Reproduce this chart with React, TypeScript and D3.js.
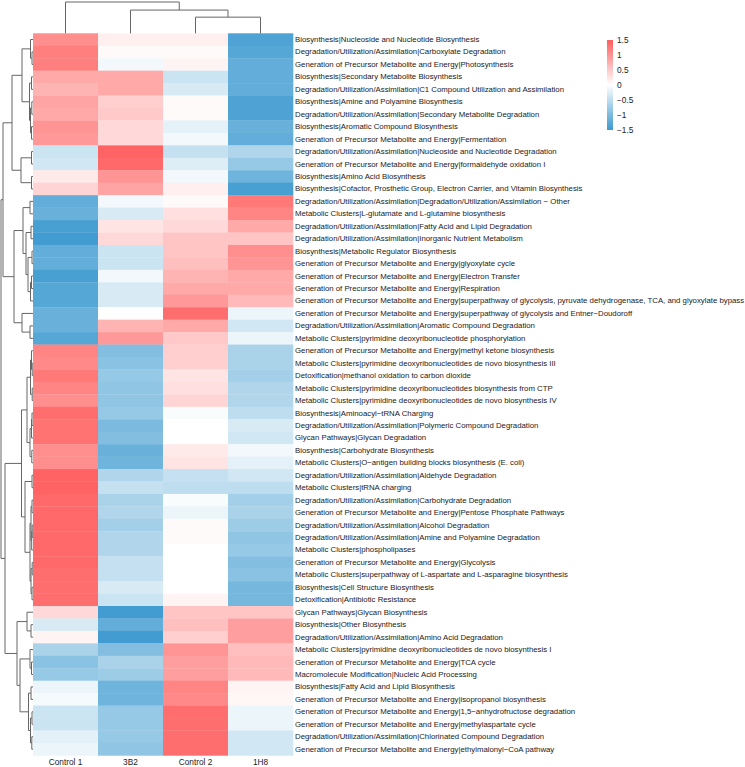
import React from 'react';
import * as d3 from 'd3';

const rowLabels = [
  'Biosynthesis|Nucleoside and Nucleotide Biosynthesis',
  'Degradation/Utilization/Assimilation|Carboxylate Degradation',
  'Generation of Precursor Metabolite and Energy|Photosynthesis',
  'Biosynthesis|Secondary Metabolite Biosynthesis',
  'Degradation/Utilization/Assimilation|C1 Compound Utilization and Assimilation',
  'Biosynthesis|Amine and Polyamine Biosynthesis',
  'Degradation/Utilization/Assimilation|Secondary Metabolite Degradation',
  'Biosynthesis|Aromatic Compound Biosynthesis',
  'Generation of Precursor Metabolite and Energy|Fermentation',
  'Degradation/Utilization/Assimilation|Nucleoside and Nucleotide Degradation',
  'Generation of Precursor Metabolite and Energy|formaldehyde oxidation I',
  'Biosynthesis|Amino Acid Biosynthesis',
  'Biosynthesis|Cofactor, Prosthetic Group, Electron Carrier, and Vitamin Biosynthesis',
  'Degradation/Utilization/Assimilation|Degradation/Utilization/Assimilation \u2212 Other',
  'Metabolic Clusters|L-glutamate and L-glutamine biosynthesis',
  'Degradation/Utilization/Assimilation|Fatty Acid and Lipid Degradation',
  'Degradation/Utilization/Assimilation|Inorganic Nutrient Metabolism',
  'Biosynthesis|Metabolic Regulator Biosynthesis',
  'Generation of Precursor Metabolite and Energy|glyoxylate cycle',
  'Generation of Precursor Metabolite and Energy|Electron Transfer',
  'Generation of Precursor Metabolite and Energy|Respiration',
  'Generation of Precursor Metabolite and Energy|superpathway of glycolysis, pyruvate dehydrogenase, TCA, and glyoxylate bypass',
  'Generation of Precursor Metabolite and Energy|superpathway of glycolysis and Entner\u2212Doudoroff',
  'Degradation/Utilization/Assimilation|Aromatic Compound Degradation',
  'Metabolic Clusters|pyrimidine deoxyribonucleotide phosphorylation',
  'Generation of Precursor Metabolite and Energy|methyl ketone biosynthesis',
  'Metabolic Clusters|pyrimidine deoxyribonucleotides de novo biosynthesis III',
  'Detoxification|methanol oxidation to carbon dioxide',
  'Metabolic Clusters|pyrimidine deoxyribonucleotides biosynthesis from CTP',
  'Metabolic Clusters|pyrimidine deoxyribonucleotides de novo biosynthesis IV',
  'Biosynthesis|Aminoacyl\u2212tRNA Charging',
  'Degradation/Utilization/Assimilation|Polymeric Compound Degradation',
  'Glycan Pathways|Glycan Degradation',
  'Biosynthesis|Carbohydrate Biosynthesis',
  'Metabolic Clusters|O\u2212antigen building blocks biosynthesis (E. coli)',
  'Degradation/Utilization/Assimilation|Aldehyde Degradation',
  'Metabolic Clusters|tRNA charging',
  'Degradation/Utilization/Assimilation|Carbohydrate Degradation',
  'Generation of Precursor Metabolite and Energy|Pentose Phosphate Pathways',
  'Degradation/Utilization/Assimilation|Alcohol Degradation',
  'Degradation/Utilization/Assimilation|Amine and Polyamine Degradation',
  'Metabolic Clusters|phospholipases',
  'Generation of Precursor Metabolite and Energy|Glycolysis',
  'Metabolic Clusters|superpathway of L-aspartate and L-asparagine biosynthesis',
  'Biosynthesis|Cell Structure Biosynthesis',
  'Detoxification|Antibiotic Resistance',
  'Glycan Pathways|Glycan Biosynthesis',
  'Biosynthesis|Other Biosynthesis',
  'Degradation/Utilization/Assimilation|Amino Acid Degradation',
  'Metabolic Clusters|pyrimidine deoxyribonucleotides de novo biosynthesis I',
  'Generation of Precursor Metabolite and Energy|TCA cycle',
  'Macromolecule Modification|Nucleic Acid Processing',
  'Biosynthesis|Fatty Acid and Lipid Biosynthesis',
  'Generation of Precursor Metabolite and Energy|isopropanol biosynthesis',
  'Generation of Precursor Metabolite and Energy|1,5\u2212anhydrofructose degradation',
  'Generation of Precursor Metabolite and Energy|methylaspartate cycle',
  'Degradation/Utilization/Assimilation|Chlorinated Compound Degradation',
  'Generation of Precursor Metabolite and Energy|ethylmalonyl\u2212CoA pathway',
];

const colLabels = ['Control 1', '3B2', 'Control 2', '1H8'];

const control1 = [
  1.05, 1.2, 1.2, 0.8, 0.7, 0.85, 0.8, 1.0, 0.95, -0.4,
  -0.35, 0.2, 0.4, -1.2, -1.15, -1.4, -1.45, -1.2, -1.2, -1.4,
  -1.3, -1.3, -1.15, -1.15, -1.3, 1.15, 1.1, 1.25, 1.15, 1.05,
  1.35, 1.3, 1.3, 1.05, 1.05, 1.45, 1.45, 1.4, 1.4, 1.4,
  1.4, 1.4, 1.4, 1.35, 1.35, 1.35, 0.35, -0.3, 0.1, -0.65,
  -0.9, -0.8, -0.15, -0.08, -0.4, -0.4, -0.2, -0.15,
];
const b3B2 = [
  0.15, 0.05, -0.1, 0.8, 0.8, 0.45, 0.5, 0.35, 0.35, 1.45,
  1.4, 1.0, 0.85, -0.1, -0.3, 0.25, 0.35, -0.4, -0.4, -0.1,
  -0.3, -0.3, 0.0, 0.7, 0.95, -0.95, -0.9, -0.8, -0.85, -0.85,
  -0.8, -1.0, -0.95, -1.15, -1.1, -0.6, -0.45, -0.65, -0.6, -0.7,
  -0.6, -0.6, -0.45, -0.45, -0.3, -0.4, -1.45, -1.2, -1.45, -0.95,
  -0.65, -0.75, -1.1, -1.1, -0.8, -0.8, -0.8, -0.85,
];
const control2 = [
  0.15, 0.05, 0.1, -0.4, -0.3, 0.05, 0.05, -0.2, -0.1, -0.45,
  -0.25, -0.1, 0.15, 0.05, 0.3, 0.35, 0.55, 0.55, 0.6, 0.7,
  0.8, 0.95, 1.35, 0.8, 0.5, 0.45, 0.45, 0.25, 0.3, 0.4,
  -0.05, 0.0, 0.0, 0.2, 0.25, -0.45, -0.5, -0.05, -0.15, 0.05,
  0.05, 0.0, 0.0, 0.0, 0.0, 0.1, 0.55, 0.6, 0.45, 1.0,
  0.9, 0.9, 1.15, 1.1, 1.35, 1.35, 1.35, 1.35,
];
const h1H8 = [
  -1.35, -1.3, -1.2, -1.2, -1.2, -1.35, -1.35, -1.15, -1.2, -0.6,
  -0.8, -1.1, -1.4, 1.25, 1.15, 0.8, 0.55, 1.05, 1.0, 0.8,
  0.8, 0.65, -0.15, -0.35, -0.15, -0.65, -0.65, -0.7, -0.6, -0.6,
  -0.5, -0.3, -0.35, -0.1, -0.2, -0.35, -0.5, -0.7, -0.65, -0.75,
  -0.85, -0.8, -0.95, -0.9, -1.05, -1.05, 0.55, 0.9, 0.9, 0.6,
  0.65, 0.65, 0.1, 0.08, -0.15, -0.15, -0.35, -0.35,
];

// hclust-style merges: negative = leaf -(index+1), positive = earlier merge (1-based); third = height
const rowMerges: [number, number, number][] = [
  [-2, -3, 1.0], [-1, 1, 2.5], [-4, -5, 1.5], [-6, -7, 1.2], [-8, -9, 1.5],
  [4, 5, 2.5], [3, 6, 3.5], [2, 7, 11], [-10, -11, 1.5], [-12, -13, 1.5],
  [9, 10, 12], [8, 11, 21],
  [-14, -15, 3], [-16, -17, 2], [-18, -19, 1], [-20, -21, 1.5], [16, -22, 2.5],
  [15, 17, 5], [14, 18, 7], [13, 19, 10], [-24, -25, 3], [-23, 21, 11],
  [20, 22, 19], [12, 23, 30],
  [-27, -28, 0.8], [-26, 25, 1.5], [-29, -30, 0.8], [26, 27, 2.5], [-31, -32, 1],
  [29, -33, 1.5], [-34, -35, 1.2], [30, 31, 3], [28, 32, 6],
  [-36, -37, 1], [-38, -39, 1], [-40, -41, 0.8], [36, -42, 1.3], [35, 37, 2],
  [-43, -44, 0.8], [-45, -46, 1], [39, 40, 2], [38, 41, 3], [34, 42, 8],
  [33, 43, 11.5],
  [-48, -49, 2], [-47, 45, 6], [-51, -52, 1.5], [-50, 47, 3], [-53, -54, 2],
  [-55, -56, 1], [-57, -58, 1.2], [50, 51, 2.5], [49, 52, 4.5], [48, 53, 13],
  [46, 54, 16], [44, 55, 28], [24, 56, 32],
];

const colMerges: [number, number, number][] = [
  [-3, -4, 16], [-2, 1, 23], [-1, 2, 31],
];

const legendTicks = [1.5, 1, 0.5, 0, -0.5, -1, -1.5];

const BLUE = '#3b99cf';
const RED = '#ff5e5e';

type Seg = { p1: number; h1: number; p2: number; h2: number };

function dendro(merges: [number, number, number][], leafPos: (i: number) => number): Seg[] {
  const nodes: { pos: number; h: number }[] = [];
  const get = (id: number) => (id < 0 ? { pos: leafPos(-id - 1), h: 0 } : nodes[id - 1]);
  const segs: Seg[] = [];
  merges.forEach(([a, b, h]) => {
    const A = get(a);
    const B = get(b);
    segs.push({ p1: A.pos, h1: A.h, p2: A.pos, h2: h });
    segs.push({ p1: B.pos, h1: B.h, p2: B.pos, h2: h });
    segs.push({ p1: A.pos, h1: h, p2: B.pos, h2: h });
    nodes.push({ pos: (A.pos + B.pos) / 2, h });
  });
  return segs;
}

export default function App() {
  const W = 745;
  const H = 767;
  const left = 33;
  const right = 293;
  const top = 33.3;
  const bottom = 755.4;
  const n = rowLabels.length;
  const rows = d3.range(n);
  const series = [control1, b3B2, control2, h1H8];

  const x = d3.scaleBand<string>().domain(colLabels).range([left, right]);
  const y = d3.scaleBand<number>().domain(rows).range([top, bottom]);
  const color = d3
    .scaleLinear<string>()
    .domain([-1.5, 0, 1.5])
    .range([BLUE, '#ffffff', RED])
    .interpolate(d3.interpolateRgb)
    .clamp(true);

  const rowH = d3.scaleLinear().domain([0, 32]).range([left, 1]);
  const colH = d3.scaleLinear().domain([0, 31]).range([top, 2]);
  const rowSegs = dendro(rowMerges, (i) => (y(i) as number) + y.bandwidth() / 2);
  const colSegs = dendro(colMerges, (i) => (x(colLabels[i]) as number) + x.bandwidth() / 2);

  const legY = d3.scaleLinear().domain([1.5, -1.5]).range([40, 130]);
  const font = "'Liberation Sans', Arial, sans-serif";

  return (
    <div style={{ position: 'absolute', left: 0, top: 0, background: '#fff' }}>
      <svg width={W} height={H} style={{ display: 'block' }}>
        <rect width={W} height={H} fill="#fff" />
        {series.map((vals, c) =>
          rows.map((r) => (
            <rect
              key={`${c}-${r}`}
              x={x(colLabels[c])}
              y={y(r)}
              width={x.bandwidth() + 0.3}
              height={y.bandwidth() + 0.3}
              fill={color(vals[r])}
            />
          ))
        )}
        <g stroke="#666" strokeWidth={1} fill="none">
          {rowSegs.map((s, i) => (
            <line key={`r${i}`} x1={rowH(s.h1)} x2={rowH(s.h2)} y1={s.p1} y2={s.p2} />
          ))}
          {colSegs.map((s, i) => (
            <line key={`c${i}`} y1={colH(s.h1)} y2={colH(s.h2)} x1={s.p1} x2={s.p2} />
          ))}
        </g>
        <g fontFamily={font} fontSize={7.8} fill="#1a1a1a">
          {rows.map((r) => (
            <text key={r} x={right + 2} y={(y(r) as number) + y.bandwidth() / 2} dominantBaseline="central">
              {rowLabels[r]}
            </text>
          ))}
        </g>
        <g fontFamily={font} fontSize={8.3} fill="#1a1a1a">
          {colLabels.map((c) => (
            <text key={c} x={(x(c) as number) + x.bandwidth() / 2} y={762} textAnchor="middle" dominantBaseline="central">
              {c}
            </text>
          ))}
        </g>
        <defs>
          <linearGradient id="leg" x1="0" y1="0" x2="0" y2="1">
            {d3.range(0, 1.0001, 0.1).map((t) => (
              <stop key={t} offset={t} stopColor={color(1.5 - 3 * t)} />
            ))}
          </linearGradient>
        </defs>
        <rect x={607} y={40} width={6} height={90} fill="url(#leg)" />
        <g fontFamily={font} fontSize={8.3} fill="#1a1a1a">
          {legendTicks.map((t) => (
            <text key={t} x={617} y={legY(t)} dominantBaseline="central">
              {t < 0 ? '\u2212' + Math.abs(t) : String(t)}
            </text>
          ))}
        </g>
      </svg>
    </div>
  );
}
